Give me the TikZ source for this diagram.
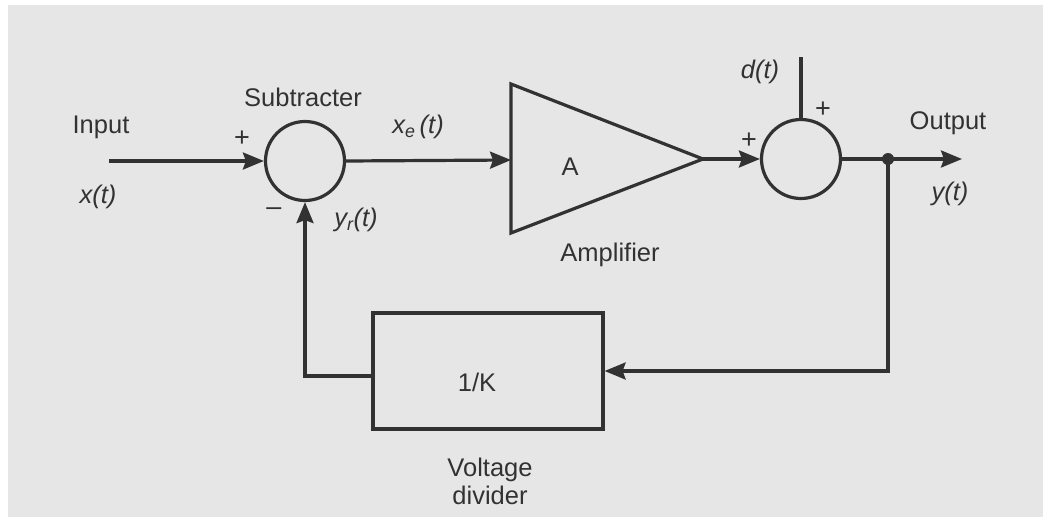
\documentclass[tikz,border=0pt]{standalone}
\usepackage{fontspec}
\setmainfont{Liberation Sans}
\usetikzlibrary{arrows.meta}
\definecolor{ink}{RGB}{50,50,50}
\definecolor{paper}{RGB}{230,230,230}
\begin{document}
\begin{tikzpicture}[x=1pt,y=-1pt,
  every node/.style={text=ink,font=\fontsize{25.5}{29}\selectfont},
  wire/.style={draw=ink,line width=3.2pt},
  arr/.style={wire,-{Stealth[length=21pt,width=17pt,inset=3pt]}},
  sumnode/.style={circle,draw=ink,line width=3.2pt,minimum size=79pt,inner sep=0pt},
  blockbox/.style={rectangle,draw=ink,line width=3.2pt,minimum width=230pt,minimum height=116pt,inner sep=0pt},
  sig/.style={font=\fontsize{25.5}{29}\selectfont\itshape},
  sgn/.style={font=\fontsize{27}{29}\selectfont}]
\useasboundingbox (0,0) rectangle (1043,517);
\fill[white] (0,0) rectangle (1043,517);
\fill[paper] (8,5) rectangle (1043,517);
% nodes
\coordinate (in) at (109,161);
\node[sumnode] (sub) at (305,161) {};
\coordinate (ampin) at (511,160);
\coordinate (amptop) at (511,84);
\coordinate (ampbot) at (511,233);
\coordinate (amptip) at (703,159);
\draw[wire,line join=miter] (amptop) -- (ampbot) -- (amptip) -- cycle;
\node[sumnode] (add) at (801,159) {};
\coordinate (dtop) at (801,57);
\node[circle,fill=ink,inner sep=0pt,minimum size=12pt] (dot) at (888,159) {};
\coordinate (out) at (962,159);
\node[blockbox] (box) at (488,371) {};
% connectors
\draw[arr] (in) -- (sub.west);
\draw[arr] (sub.east) -- (ampin);
\draw[arr] (amptip) -- (add.west);
\draw[wire] (dtop) -- (add.north);
\draw[wire] (add.east) -- (dot.center);
\draw[arr] (dot.center) -- (out);
\draw[arr] (dot.center) |- (box.east);
\draw[arr] ([yshift=-5pt]box.west) -| (sub.south);
% labels
\node (linput) at (101,127) {Input};
\node[sig] (lx) at (98,197) {x(t)};
\node[sgn] (p1) at (242,139) {+};
\node[sgn] (m1) at (274,212) {\textendash};
\node (lsub) at (303,97) {Subtracter};
\node[sig] (lxe) at (418,127) {x\textsubscript{e}\,(t)};
\node[sig] (lyr) at (356,220) {y\textsubscript{r}(t)};
\node (lA) at (570,167) {A};
\node (lamp) at (610,255) {Amplifier};
\node[sgn] (p2) at (749,141) {+};
\node[sgn] (p3) at (823,110) {+};
\node[sig] (ld) at (760,72) {d(t)};
\node (lout) at (948,123) {Output};
\node[sig] (ly) at (950,194) {y(t)};
\node (lK) at (477,382) {1/K};
\node[align=center,font=\fontsize{25.5}{28}\selectfont] (lvd) at (490,481) {Voltage\\divider};
\end{tikzpicture}
\end{document}
